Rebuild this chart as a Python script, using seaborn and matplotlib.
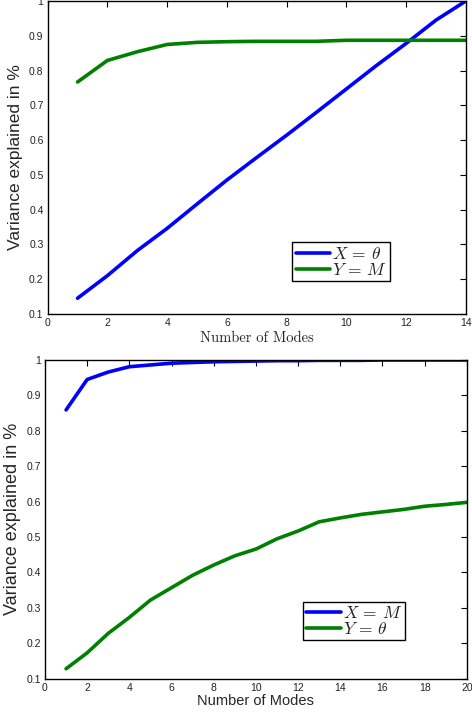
import numpy as np
import pandas as pd
import matplotlib
matplotlib.use("Agg")
import matplotlib.pyplot as plt
import seaborn as sns

# ---- data ----
modes_top = list(range(1, 15))
top_x_theta = [0.145, 0.210, 0.282, 0.346, 0.416, 0.485, 0.550, 0.614, 0.680,
               0.747, 0.814, 0.878, 0.945, 1.000]
top_y_m = [0.767, 0.829, 0.854, 0.875, 0.881, 0.883, 0.884, 0.884, 0.884,
           0.887, 0.887, 0.887, 0.887, 0.887]
top_labels = [r"$X\,=\,\theta$", r"$Y\,=\,M$"]

modes_bot = list(range(1, 21))
bot_x_m = [0.859, 0.945, 0.966, 0.981, 0.986, 0.991, 0.993, 0.995, 0.996, 0.997,
           0.998, 0.998, 0.999, 0.999, 0.999, 1.000, 1.000, 1.000, 1.000, 1.000]
bot_y_theta = [0.128, 0.173, 0.228, 0.273, 0.322, 0.357, 0.392, 0.421, 0.447, 0.466,
               0.495, 0.517, 0.543, 0.554, 0.564, 0.571, 0.578, 0.587, 0.592, 0.598]
bot_labels = [r"$X\,=\,M$", r"$Y\,=\,\theta$"]

yticks = [0.1, 0.2, 0.3, 0.4, 0.5, 0.6, 0.7, 0.8, 0.9, 1.0]
ytick_labels = ["0.1", "0.2", "0.3", "0.4", "0.5", "0.6", "0.7", "0.8", "0.9", "1"]
xticks_top = [0, 2, 4, 6, 8, 10, 12, 14]
xticks_bot = [0, 2, 4, 6, 8, 10, 12, 14, 16, 18, 20]
ylabel = "Variance explained in %"
xlabel = "Number of Modes"

sns.set_style("white")
plt.rcParams["font.family"] = ["Liberation Sans", "DejaVu Sans"]
plt.rcParams["mathtext.fontset"] = "cm"

colors = ["#0000ff", "#008000"]

fig = plt.figure(figsize=(4.72, 7.15), dpi=100)
ax1 = fig.add_axes([0.101, 0.561, 0.886, 0.4376])
ax2 = fig.add_axes([0.0953, 0.0508, 0.8937, 0.4457])

df_top = pd.DataFrame({
    "mode": modes_top * 2,
    "var": top_x_theta + top_y_m,
    "series": [top_labels[0]] * len(modes_top) + [top_labels[1]] * len(modes_top),
})
df_bot = pd.DataFrame({
    "mode": modes_bot * 2,
    "var": bot_x_m + bot_y_theta,
    "series": [bot_labels[0]] * len(modes_bot) + [bot_labels[1]] * len(modes_bot),
})

for ax, df, labels, xt, xmax, leg_anchor, ylfs in [
    (ax1, df_top, top_labels, xticks_top, 14, (0.702, 0.166), 12.5),
    (ax2, df_bot, bot_labels, xticks_bot, 20, (0.733, 0.181), 13),
]:
    sns.lineplot(data=df, x="mode", y="var", hue="series", hue_order=labels,
                 palette=colors, linewidth=2.6, ax=ax)
    ax.set_xlim(0, xmax)
    ax.set_ylim(0.1, 1.0)
    ax.set_xticks(xt)
    ax.set_xticklabels([str(v) for v in xt])
    ax.set_yticks(yticks)
    ax.set_yticklabels(ytick_labels)
    ax.tick_params(direction="in", length=4, width=0.8, labelsize=7.5,
                   top=True, right=True, colors="black", labelcolor="#222222", pad=3)
    for sp in ax.spines.values():
        sp.set_color("black")
        sp.set_linewidth(1.0)
        sp.set_visible(True)
    ax.set_ylabel(ylabel, fontsize=ylfs, labelpad=4)
    handles, labs = ax.get_legend_handles_labels()
    leg = ax.legend(handles, labs, loc="center", bbox_to_anchor=leg_anchor,
                    fontsize=12.5, handlelength=2.0, handletextpad=0.1,
                    borderpad=0.2, labelspacing=0.0, fancybox=False,
                    framealpha=1, edgecolor="black", borderaxespad=0)
    leg.get_frame().set_linewidth(1.0)
    for line in leg.get_lines():
        line.set_linewidth(2.6)

ax1.set_xlabel(xlabel, fontsize=10.5, family="cmr10", labelpad=2)
ax2.set_xlabel(xlabel, fontsize=10.5, labelpad=1)

fig.savefig("out.png", dpi=100)
